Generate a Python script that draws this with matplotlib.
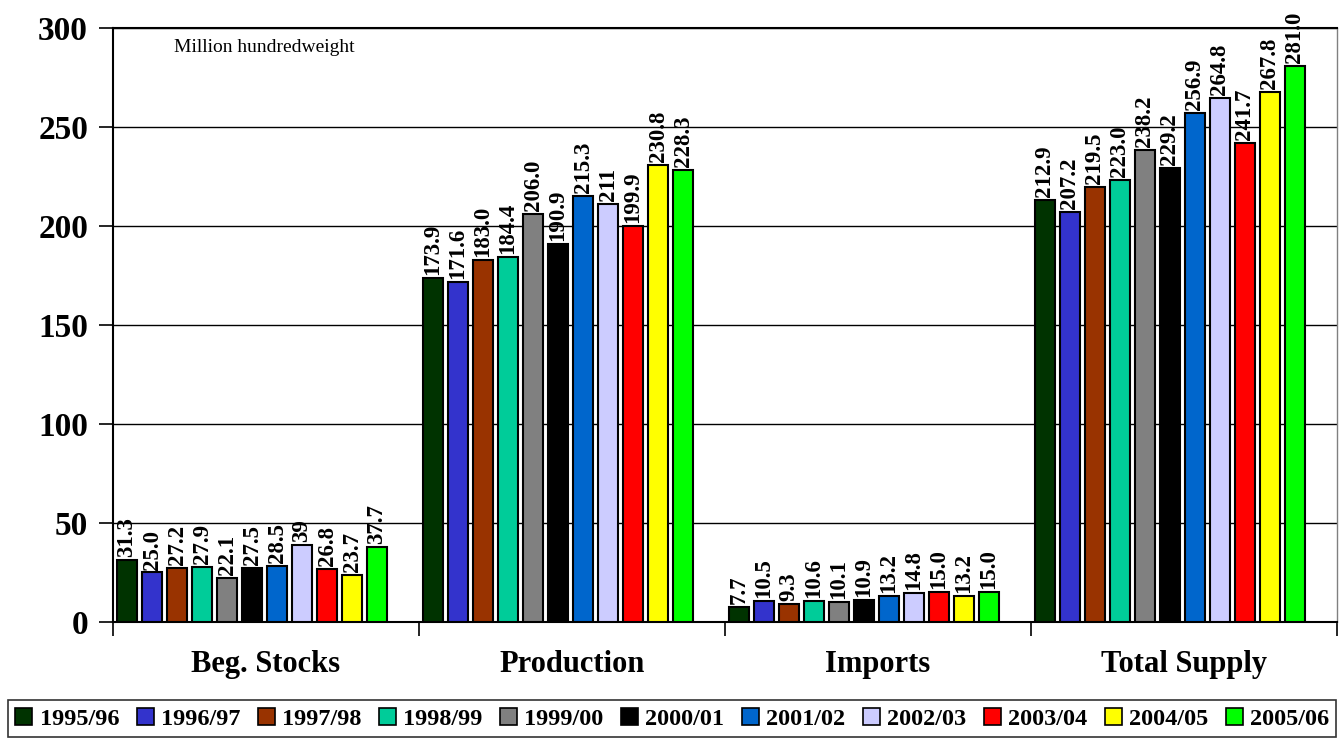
import matplotlib.pyplot as plt
from matplotlib.patches import Patch

# Supply categories and marketing years
categories = ["Beg. Stocks", "Production", "Imports", "Total Supply"]
years = ["1995/96", "1996/97", "1997/98", "1998/99", "1999/00", "2000/01",
         "2001/02", "2002/03", "2003/04", "2004/05", "2005/06"]

# Values per category, one per year (million hundredweight)
beg_stocks = [31.3, 25.0, 27.2, 27.9, 22.1, 27.5, 28.5, 39, 26.8, 23.7, 37.7]
production = [173.9, 171.6, 183.0, 184.4, 206.0, 190.9, 215.3, 211, 199.9, 230.8, 228.3]
imports = [7.7, 10.5, 9.3, 10.6, 10.1, 10.9, 13.2, 14.8, 15.0, 13.2, 15.0]
total_supply = [212.9, 207.2, 219.5, 223.0, 238.2, 229.2, 256.9, 264.8, 241.7, 267.8, 281.0]

# Labels as printed on the chart
beg_labels = ["31.3", "25.0", "27.2", "27.9", "22.1", "27.5", "28.5", "39", "26.8", "23.7", "37.7"]
prod_labels = ["173.9", "171.6", "183.0", "184.4", "206.0", "190.9", "215.3", "211", "199.9", "230.8", "228.3"]
imp_labels = ["7.7", "10.5", "9.3", "10.6", "10.1", "10.9", "13.2", "14.8", "15.0", "13.2", "15.0"]
tot_labels = ["212.9", "207.2", "219.5", "223.0", "238.2", "229.2", "256.9", "264.8", "241.7", "267.8", "281.0"]

colors = ["#003300", "#3333CC", "#993300", "#00CC99", "#808080", "#000000",
          "#0066CC", "#CCCCFF", "#FF0000", "#FFFF00", "#00FF00"]

series = [beg_stocks, production, imports, total_supply]
labels = [beg_labels, prod_labels, imp_labels, tot_labels]

plt.rcParams["font.family"] = ["Liberation Serif", "DejaVu Serif"]

fig = plt.figure(figsize=(13.39, 7.40), dpi=100)
ax = fig.add_axes([0.0844, 0.1595, 0.914, 0.8027])

pitch = 0.0817
width = 0.066
start = 0.013

for c, (vals, labs) in enumerate(zip(series, labels)):
    for j, (v, lab) in enumerate(zip(vals, labs)):
        x = c + start + j * pitch + width / 2
        ax.bar(x, v, width=width, color=colors[j], edgecolor="black",
               linewidth=1.5, zorder=3)
        ax.text(x, v + 1.5, lab, rotation=90, ha="center", va="bottom",
                fontsize=16.5, fontweight="bold", clip_on=False, zorder=4)

ax.set_xlim(0, 4)
ax.set_ylim(0, 300)
ax.set_yticks(range(0, 301, 50))
ax.tick_params(axis="y", labelsize=24, width=1.2, length=10, pad=8)
for t in ax.get_yticklabels():
    t.set_fontweight("bold")
ax.yaxis.grid(True, color="black", linewidth=1, zorder=0)

ax.set_xticks([0, 1, 2, 3, 4])
ax.set_xticklabels([])
ax.tick_params(axis="x", length=10, width=1.2)
ax.set_xticks([0.5, 1.5, 2.5, 3.5], minor=True)
ax.set_xticklabels(categories, minor=True, fontsize=22, fontweight="bold")
ax.tick_params(axis="x", which="minor", length=0, pad=20)

for s in ["left", "bottom"]:
    ax.spines[s].set_linewidth(1.5)
ax.spines["top"].set_linewidth(1.5)
ax.spines["right"].set_linewidth(1.0)
ax.spines["right"].set_color("#808080")

ax.text(0.2, 290, "Million hundredweight", fontsize=14, ha="left", va="center")

handles = [Patch(facecolor=col, edgecolor="black", linewidth=1.2) for col in colors]
leg = fig.legend(handles, years, loc="lower left", ncol=11,
                 bbox_to_anchor=(0.006, 0.004, 0.992, 0.054), mode="expand",
                 prop={"size": 17.5, "weight": "bold"}, frameon=True, fancybox=False,
                 handlelength=0.7, handleheight=0.7, handletextpad=0.3,
                 columnspacing=0.25, borderaxespad=0, borderpad=0.3)
leg.get_frame().set_edgecolor("black")
leg.get_frame().set_linewidth(1.2)

fig.savefig("out.png", dpi=100)
